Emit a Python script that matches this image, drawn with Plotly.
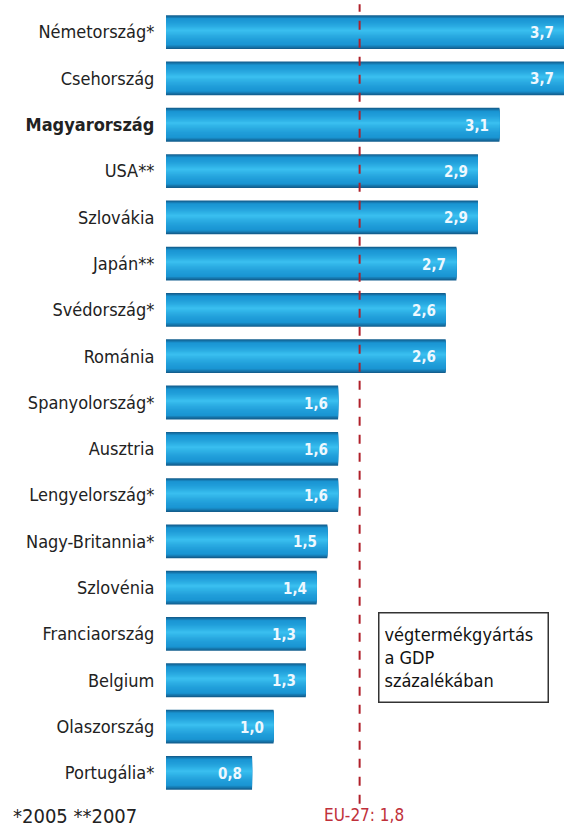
import plotly.graph_objects as go

countries = ["Németország*", "Csehország", "Magyarország", "USA**", "Szlovákia",
             "Japán**", "Svédország*", "Románia", "Spanyolország*", "Ausztria",
             "Lengyelország*", "Nagy-Britannia*", "Szlovénia", "Franciaország",
             "Belgium", "Olaszország", "Portugália*"]
values = [3.7, 3.7, 3.1, 2.9, 2.9, 2.7, 2.6, 2.6, 1.6, 1.6, 1.6, 1.5, 1.4, 1.3, 1.3, 1.0, 0.8]
highlight = "Magyarország"
eu_avg = 1.8
footnote = "*2005 **2007"
eu_label = "EU-27: 1,8"
box_text = "végtermékgyártás<br>a GDP<br>százalékában"

FONT = "DejaVu Sans Condensed, Liberation Sans Narrow, sans-serif"

pos = list(range(len(countries)))
ticktext = [f"<b>{c}</b>" if c == highlight else c for c in countries]


def hex2rgb(h):
    h = h.lstrip("#")
    return [int(h[i:i + 2], 16) for i in (0, 2, 4)]


def mix(c0, c1, a):
    r0, r1 = hex2rgb(c0), hex2rgb(c1)
    return [x0 + (x1 - x0) * a for x0, x1 in zip(r0, r1)]


# nested gradient layers: edge (dark) -> peak (light), peak slightly above centre
edge_col = "#135f8f"
mid_col = "#1a96d4"
peak_col = "#3dc3f2"
bar_w = 0.73
peak_t = 0.45
n_layers = 16

fig = go.Figure()
for i in range(n_layers):
    f = i / n_layers
    t_top = peak_t * f
    t_bot = 1 - (1 - peak_t) * f
    if f < 0.2:
        rgb = mix(edge_col, mid_col, f / 0.2)
    else:
        rgb = mix(mid_col, peak_col, ((f - 0.2) / 0.8) ** 1.5)
    col = "rgb({:.0f},{:.0f},{:.0f})".format(*rgb)
    fig.add_trace(go.Bar(
        x=values, y=pos, orientation="h",
        width=bar_w * (t_bot - t_top), offset=-bar_w / 2 + bar_w * t_top,
        marker=dict(color=col, line=dict(width=0)),
        hoverinfo="skip", showlegend=False,
    ))

for v, p in zip(values, pos):
    fig.add_annotation(
        x=min(v, 3.7), y=p, xref="x", yref="y",
        text="<b>" + f"{v:.1f}".replace(".", ",") + "</b>",
        showarrow=False, xanchor="right", xshift=-8, yshift=-1,
        font=dict(family=FONT, size=15, color="#eef8ff"),
    )

fig.add_shape(type="line", x0=eu_avg, x1=eu_avg, xref="x", yref="paper", y0=-0.01, y1=1.006,
              line=dict(color="#b0202a", width=2, dash="dash"))

fig.add_annotation(x=eu_avg, xref="x", y=-0.009, yref="paper", yanchor="top", xshift=4,
                   text=eu_label, showarrow=False,
                   font=dict(family=FONT, size=17, color="#c0303a"))
fig.add_annotation(x=-0.39, xref="paper", xanchor="left", y=-0.008, yref="paper", yanchor="top",
                   text=footnote, showarrow=False,
                   font=dict(family=FONT, size=20, color="#222"))
fig.add_annotation(x=1.97, xref="x", xanchor="left", y=13.5, yref="y", yanchor="middle",
                   text=box_text, showarrow=False, align="left", width=158, height=78,
                   bordercolor="#333", borderwidth=1.5, borderpad=5, bgcolor="white",
                   font=dict(family=FONT, size=18, color="#111"))

fig.update_layout(
    width=564, height=828,
    margin=dict(l=166, r=0, t=9, b=32),
    plot_bgcolor="white", paper_bgcolor="white",
    barmode="overlay",
    xaxis=dict(range=[0, 3.7], visible=False, fixedrange=True),
    yaxis=dict(tickvals=pos, ticktext=ticktext, range=[16.5, -0.5],
               showgrid=False, zeroline=False, showline=False,
               ticks="outside", ticklen=7, tickcolor="rgba(0,0,0,0)",
               tickfont=dict(family=FONT, size=18, color="#222")),
)

fig.write_html("out.html")
